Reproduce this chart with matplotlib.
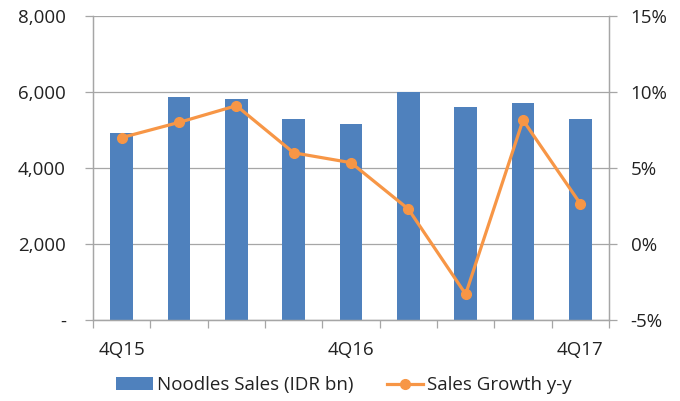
import matplotlib.pyplot as plt
from matplotlib.ticker import FuncFormatter

quarters = ["4Q15", "1Q16", "2Q16", "3Q16", "4Q16", "1Q17", "2Q17", "3Q17", "4Q17"]
sales_idr_bn = [4920, 5860, 5815, 5290, 5170, 5990, 5615, 5705, 5290]
growth_pct = [7.0, 8.0, 9.1, 6.0, 5.35, 2.3, -3.3, 8.15, 2.65]
shown_labels = ["4Q15", "4Q16", "4Q17"]

bar_color = "#4F81BD"
line_color = "#F79646"
grid_color = "#A6A6A6"
text_color = "#222222"

plt.rcParams["font.family"] = ["Open Sans", "DejaVu Sans"]
plt.rcParams["font.size"] = 13.5

fig = plt.figure(figsize=(6.8, 4.01), dpi=100)
ax = fig.add_axes([93 / 680, 81 / 401, 516 / 680, 304 / 401])
ax2 = ax.twinx()

x = list(range(len(quarters)))
bars = ax.bar(x, sales_idr_bn, width=0.4, color=bar_color, zorder=2,
              label="Noodles Sales (IDR bn)")
line, = ax2.plot(x, growth_pct, color=line_color, lw=2.3, marker="o", ms=7,
                 label="Sales Growth y-y", zorder=3)

# left axis: sales
ax.set_xlim(-0.5, len(quarters) - 0.5)
ax.set_ylim(0, 8000)
ax.set_yticks(range(0, 8001, 2000))
ax.yaxis.set_major_formatter(FuncFormatter(lambda v, p: "-" if v == 0 else f"{int(v):,}"))
ax.yaxis.grid(True, color=grid_color, lw=0.9, zorder=0)
ax.set_axisbelow(True)

# right axis: growth
ax2.set_ylim(-5, 15)
ax2.set_yticks(range(-5, 16, 5))
ax2.yaxis.set_major_formatter(FuncFormatter(lambda v, p: f"{int(v)}%"))

# category boundaries as ticks, labels only on some quarters
ax.set_xticks([i - 0.5 for i in range(len(quarters) + 1)])
ax.set_xticklabels([])
ax.set_xticks([quarters.index(q) for q in shown_labels], minor=True)
ax.set_xticklabels(shown_labels, minor=True)
ax.tick_params(axis="x", which="major", length=6, color=grid_color, width=0.9)
ax.tick_params(axis="x", which="minor", length=0, pad=15, colors=text_color)
ax.tick_params(axis="y", length=6, color=grid_color, width=0.9, pad=13.5,
               labelcolor=text_color)
ax2.tick_params(axis="y", length=6, color=grid_color, width=0.9, pad=9.5,
                labelcolor=text_color)

for a in (ax, ax2):
    a.spines["top"].set_visible(False)
    for s in ("left", "right", "bottom"):
        a.spines[s].set_color(grid_color)
        a.spines[s].set_linewidth(0.9)

fig.legend([bars, line], [bars.get_label(), line.get_label()],
           loc="center", bbox_to_anchor=(344 / 680, 1 - 385 / 401), ncol=2,
           frameon=False, handlelength=1.95, handleheight=0.65,
           columnspacing=1.8, handletextpad=0.2, labelcolor=text_color)

fig.savefig("out.png", dpi=100)
